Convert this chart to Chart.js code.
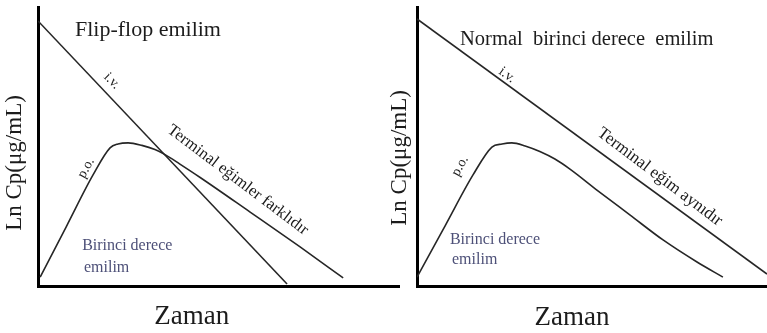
<!DOCTYPE html>
<html>
<head>
<meta charset="utf-8">
<script src="https://cdn.jsdelivr.net/npm/chart.js@4.4.1/dist/chart.umd.min.js"></script>
<style>
  html, body { margin: 0; padding: 0; background: #fff; }
  #wrap { position: relative; width: 767px; height: 333px; }
  canvas { position: absolute; top: 0; }
  #flipflop { left: 0; }
  #normal { left: 385px; }
</style>
</head>
<body>
<div id="wrap">
  <canvas id="flipflop" width="400" height="333"></canvas>
  <canvas id="normal" width="382" height="333"></canvas>
</div>
<script>
// flip-flop panel: i.v. line and oral curve (time, ln Cp)
const ffIvTime = [0, 6.88];
const ffIvConc = [9.5, 0.07];
const ffPoTime = [0.06, 0.79, 1.52, 1.99, 2.21, 2.49, 2.87, 3.23, 3.51, 3.92, 4.48, 5.86, 7.24, 8.43];
const ffPoConc = [0.32, 2.15, 3.98, 4.95, 5.09, 5.13, 5.04, 4.89, 4.71, 4.37, 3.89, 2.65, 1.40, 0.29];

// normal first-order absorption panel
const nIvTime = [0, 10];
const nIvConc = [9.57, 0.43];
const nPoTime = [0, 0.8, 1.6, 2.14, 2.43, 2.71, 3.09, 3.51, 3.94, 4.37, 5.14, 6.09, 7.03, 8.0, 8.74];
const nPoConc = [0.32, 2.15, 3.98, 4.98, 5.09, 5.13, 5.02, 4.82, 4.55, 4.19, 3.44, 2.54, 1.65, 0.86, 0.32];

const axisTitle = 'Ln Cp(μg/mL)';
const timeTitle = 'Zaman';

const SERIF = '"Liberation Serif", "Times New Roman", serif';
const INK = '#1c1c1c';
const BLUE_INK = '#4d5078';

// free text placed in data coordinates, optionally rotated
const notesPlugin = {
  id: 'notes',
  afterDatasetsDraw(chart, args, opts) {
    const { ctx, scales: { x, y } } = chart;
    (opts.items || []).forEach(n => {
      ctx.save();
      ctx.translate(x.getPixelForValue(n.x), y.getPixelForValue(n.y));
      ctx.rotate((n.angle || 0) * Math.PI / 180);
      ctx.font = n.size + 'px ' + SERIF;
      ctx.fillStyle = n.color || INK;
      ctx.textAlign = n.align || 'center';
      ctx.textBaseline = 'middle';
      ctx.fillText(n.text, 0, 0);
      ctx.restore();
    });
  }
};

function toPoints(times, concs) {
  return times.map((t, i) => ({ x: t, y: concs[i] }));
}

function makePanel(id, iv, po, notes, padLeft) {
  return new Chart(document.getElementById(id), {
    type: 'line',
    data: {
      datasets: [
        { data: iv, borderColor: '#262626', borderWidth: 1.6, pointRadius: 0, tension: 0 },
        { data: po, borderColor: '#262626', borderWidth: 1.6, pointRadius: 0,
          cubicInterpolationMode: 'monotone', tension: 0.4 }
      ]
    },
    options: {
      responsive: false,
      animation: false,
      layout: { padding: { left: padLeft, top: 7, right: 0, bottom: 47 } },
      plugins: {
        legend: { display: false },
        tooltip: { enabled: false },
        notes: { items: notes }
      },
      scales: {
        x: {
          type: 'linear', min: 0, max: 10,
          ticks: { display: false },
          grid: { display: false },
          border: { color: '#000', width: 3 },
          afterFit: s => { s.height = 0; }
        },
        y: {
          min: 0, max: 10,
          ticks: { display: false },
          grid: { display: false },
          border: { color: '#000', width: 3 },
          afterFit: s => { s.width = 0; }
        }
      }
    },
    plugins: [notesPlugin]
  });
}

makePanel('flipflop', toPoints(ffIvTime, ffIvConc), toPoints(ffPoTime, ffPoConc), [
  { text: 'Flip-flop emilim', x: 1.02, y: 9.18, size: 22, align: 'left' },
  { text: 'i.v.', x: 2.04, y: 7.35, size: 14, angle: 46 },
  { text: 'p.o.', x: 1.33, y: 4.23, size: 14, angle: -61 },
  { text: 'Terminal eğimler farklıdır', x: 5.52, y: 3.80, size: 16.5, angle: 37 },
  { text: 'Birinci derece', x: 1.22, y: 1.43, size: 16, align: 'left', color: BLUE_INK },
  { text: 'emilim', x: 1.27, y: 0.65, size: 16, align: 'left', color: BLUE_INK },
  { text: axisTitle, x: -0.64, y: 4.41, size: 23, angle: -90 },
  { text: timeTitle, x: 4.25, y: -1.11, size: 27 }
], 38);

makePanel('normal', toPoints(nIvTime, nIvConc), toPoints(nPoTime, nPoConc), [
  { text: 'Normal  birinci derece  emilim', x: 1.23, y: 8.82, size: 20.5, align: 'left' },
  { text: 'i.v.', x: 2.57, y: 7.56, size: 14, angle: 36 },
  { text: 'p.o.', x: 1.23, y: 4.30, size: 14, angle: -61 },
  { text: 'Terminal eğim aynıdır', x: 6.94, y: 3.91, size: 17, angle: 37 },
  { text: 'Birinci derece', x: 0.94, y: 1.65, size: 16, align: 'left', color: BLUE_INK },
  { text: 'emilim', x: 1.0, y: 0.93, size: 16, align: 'left', color: BLUE_INK },
  { text: axisTitle, x: -0.49, y: 4.59, size: 23, angle: -90 },
  { text: timeTitle, x: 4.43, y: -1.15, size: 27 }
], 32);
</script>
</body>
</html>
